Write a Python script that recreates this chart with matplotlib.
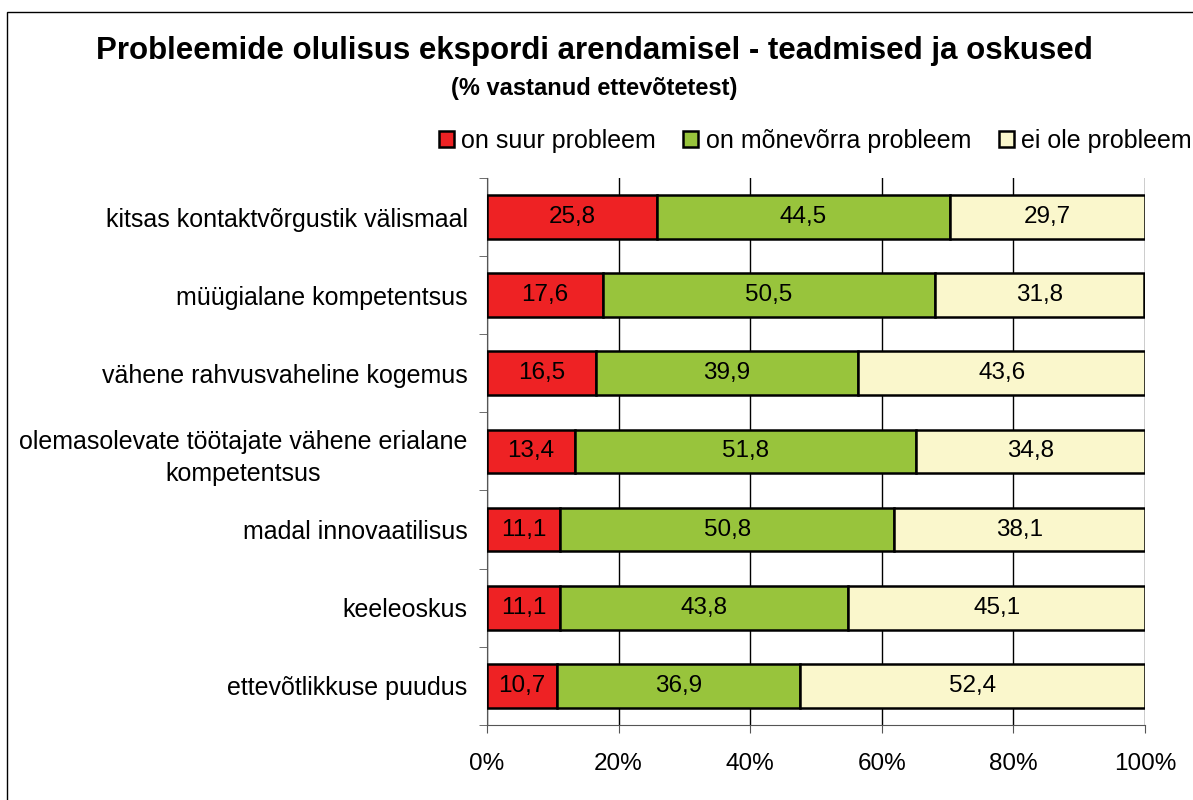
"""Stacked horizontal bar chart: export problems, knowledge and skills."""

import matplotlib.pyplot as plt
import numpy as np
from matplotlib.patches import Rectangle
from matplotlib.ticker import FixedLocator, PercentFormatter

plt.rcParams["font.family"] = ["Liberation Sans", "DejaVu Sans"]

categories = [
    "kitsas kontaktvõrgustik välismaal",
    "müügialane kompetentsus",
    "vähene rahvusvaheline kogemus",
    "olemasolevate töötajate vähene erialane\nkompetentsus",
    "madal innovaatilisus",
    "keeleoskus",
    "ettevõtlikkuse puudus",
]
big_problem = [25.8, 17.6, 16.5, 13.4, 11.1, 11.1, 10.7]
some_problem = [44.5, 50.5, 39.9, 51.8, 50.8, 43.8, 36.9]
no_problem = [29.7, 31.8, 43.6, 34.8, 38.1, 45.1, 52.4]

series_names = ["on suur probleem", "on mõnevõrra probleem", "ei ole probleem"]
colors = ["#EE2224", "#98C43C", "#FAF7CC"]

fig = plt.figure(figsize=(11.93, 8), dpi=100)
ax = fig.add_axes([0.4082, 0.094, 0.5516, 0.6835])

y = np.arange(len(categories))
left = np.zeros(len(categories))
for name, vals, col in zip(series_names, [big_problem, some_problem, no_problem], colors):
    vals = np.array(vals)
    bars = ax.barh(y, vals, left=left, height=0.56, color=col, edgecolor="black",
                   linewidth=1.8, label=name, zorder=3)
    ax.bar_label(bars, labels=[f"{v:.1f}".replace(".", ",") for v in vals],
                 label_type="center", fontsize=17.5)
    left += vals

ax.set_xlim(0, 100)
ax.set_ylim(len(categories) - 0.5, -0.5)
ax.xaxis.set_major_locator(FixedLocator([0, 20, 40, 60, 80, 100]))
ax.xaxis.set_major_formatter(PercentFormatter(decimals=0))
ax.set_yticks(y)
ax.set_yticklabels(categories, fontsize=18, multialignment="center", linespacing=1.45)
ax.yaxis.set_minor_locator(FixedLocator(np.arange(len(categories) + 1) - 0.5))
ax.tick_params(axis="y", which="major", length=0, pad=14)
ax.tick_params(axis="y", which="minor", length=6, color="#555555")
ax.tick_params(axis="x", length=6, labelsize=17.5, pad=14, color="#555555")
ax.grid(axis="x", color="black", linewidth=1, zorder=0)
for side in ["top", "right"]:
    ax.spines[side].set_visible(False)
for side in ["left", "bottom"]:
    ax.spines[side].set_color("#555555")

fig.text(0.498, 0.936, "Probleemide olulisus ekspordi arendamisel - teadmised ja oskused",
         ha="center", va="center", fontsize=22.5, fontweight="bold")
fig.text(0.498, 0.89, "(% vastanud ettevõtetest)", ha="center", va="center",
         fontsize=17, fontweight="bold")

ax.legend(loc="lower right", bbox_to_anchor=(1.071, 1.046), ncol=3, frameon=False,
          fontsize=18, handlelength=0.6, handleheight=0.6, handletextpad=0.3,
          columnspacing=1.1, borderaxespad=0, borderpad=0)

fig.patches.append(Rectangle((7 / 1193, -0.1), 1.2, 1 - 12 / 800 + 0.1,
                             transform=fig.transFigure, fill=False,
                             edgecolor="black", linewidth=1))

fig.savefig("out.png", dpi=100)
